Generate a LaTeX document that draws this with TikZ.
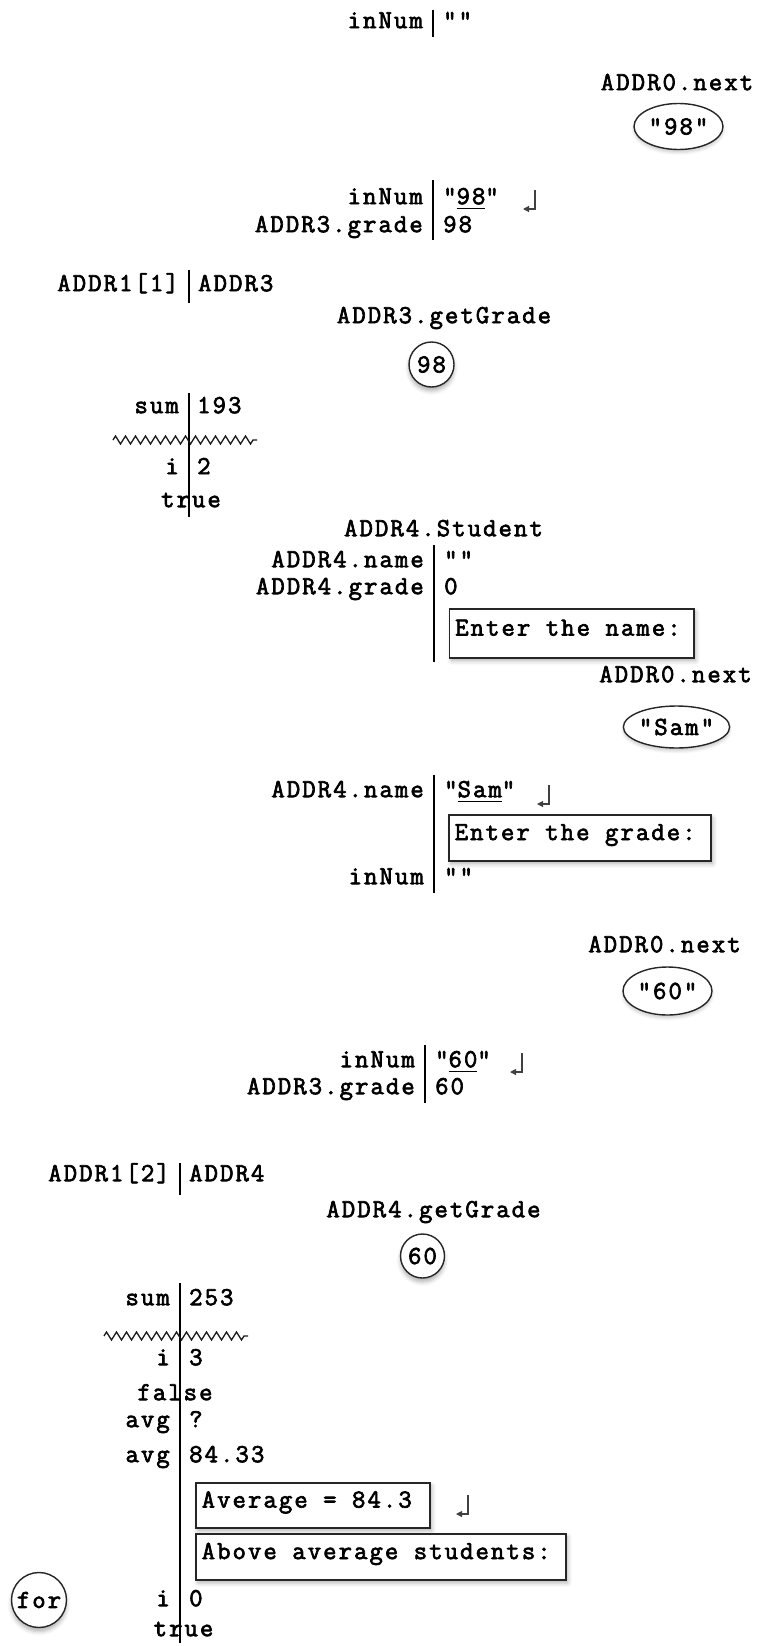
\documentclass[tikz,border=0pt]{standalone}
\usepackage{fontspec}
\setmonofont{Latin Modern Mono}[LetterSpace=7.9, FakeBold=2.6]
\usetikzlibrary{shapes.geometric,decorations.pathmorphing,shadows.blur,arrows.meta}
\newcommand\uln[1]{\setbox0\hbox{#1}\rlap{\rule[-5pt]{\wd0}{1.6pt}}\box0}
\tikzset{
  every node/.style={font=\ttfamily\fontsize{26}{30}\selectfont, inner sep=0pt, text=black},
  lbl/.style={anchor=mid east, yshift=-2pt},
  val/.style={anchor=mid west, yshift=-2pt},
  mtxt/.style={anchor=mid, yshift=-2pt},
  vbar/.style={line width=1.8pt, black},
  zz/.style={decorate, decoration={zigzag, segment length=10pt, amplitude=4pt}, line width=1.3pt, black!90},
  outbox/.style={draw=black!85, line width=1.8pt, fill=white, anchor=north west,
     blur shadow={shadow xshift=2pt, shadow yshift=-3pt, shadow blur radius=4pt, shadow opacity=30}},
  inell/.style={ellipse, draw=black!85, line width=1.4pt, fill=white,
     blur shadow={shadow xshift=0pt, shadow yshift=-3pt, shadow blur radius=3pt, shadow opacity=20}},
  retcirc/.style={circle, draw=black!85, line width=1.4pt, fill=white,
     blur shadow={shadow xshift=0pt, shadow yshift=-4pt, shadow blur radius=4pt, shadow opacity=30}},
  retarrow/.style={draw=black!75, line width=1.1pt, -{Triangle[length=6pt,width=6pt]}},
}
\newcommand\retmark[2]{%
  \coordinate (#1) at #2;
  \draw[retarrow] ([shift={(5,-10)}]#1) -- ([shift={(5,9)}]#1) -- ([shift={(-7,9)}]#1);}
\begin{document}
\begin{tikzpicture}[x=1pt,y=-1pt]
\useasboundingbox (0,0) rectangle (759,1646);

% A
\draw[vbar] (433,10) -- (433,37);
\node[lbl] (a1) at (423,24) {inNum};
\node[val] (a1v) at (443,24) {""};

% B
\node[mtxt] (b0) at (677,86) {ADDR0.next};
\node[inell, minimum width=89pt, minimum height=46pt] (b1) at (678.5,126.5) {"98"};

% C
\draw[vbar] (433,180) -- (433,240);
\node[lbl] (c1) at (423,200) {inNum};
\node[val] (c1v) at (443,200) {"\uln{98}"};
\retmark{c1r}{(530,200)}
\node[lbl] (c2) at (423,228) {ADDR3.grade};
\node[val] (c2v) at (443,228) {98};

% D
\draw[vbar] (189,270) -- (189,303);
\node[lbl] (d1) at (179,287) {ADDR1[1]};
\node[val] (d1v) at (198,287) {ADDR3};

% E
\node[mtxt] (e0) at (444,319) {ADDR3.getGrade};
\node[retcirc, minimum size=45pt] (e1) at (431.5,364.5) {98};

% F
\draw[vbar] (189,393) -- (189,517);
\node[lbl] (f1) at (179,409) {sum};
\node[val] (f1v) at (197,409) {193};
\draw[zz] (113,440) -- (257,440);
\node[lbl] (f2) at (179,470) {i};
\node[val] (f2v) at (197,470) {2};
\node[mtxt] (f3) at (191,503) {true};

% G
\node[mtxt] (g0) at (443.5,532) {ADDR4.Student};
\draw[vbar] (434,545) -- (434,662);
\node[lbl] (g1) at (424,563) {ADDR4.name};
\node[val] (g1v) at (444,563) {""};
\node[lbl] (g2) at (424,590) {ADDR4.grade};
\node[val] (g2v) at (444,590) {0};
\node[outbox, minimum width=244.5pt, minimum height=49pt] (g3) at (448.5,608) {};
\node[val, yshift=2pt] (g3t) at ([xshift=6.5pt]g3.west) {Enter the name:};

% H
\node[mtxt] (h0) at (675.5,678) {ADDR0.next};
\node[inell, minimum width=87pt, minimum height=42pt] (h1) at (676.5,727) {"Sam"};

% I
\draw[vbar] (434,775) -- (434,893);
\node[lbl] (i1) at (424,793) {ADDR4.name};
\node[val] (i1v) at (444,793) {"\uln{Sam}"};
\retmark{i1r}{(544,795)}
\node[outbox, minimum width=262pt, minimum height=46pt] (i2) at (448,814) {};
\node[val, yshift=2pt] (i2t) at ([xshift=6.5pt]i2.west) {Enter the grade:};
\node[lbl] (i3) at (424,880) {inNum};
\node[val] (i3v) at (444,880) {""};

% J
\node[mtxt] (j0) at (664.5,948) {ADDR0.next};
\node[inell, minimum width=89pt, minimum height=48pt] (j1) at (667.5,991) {"60"};

% K
\draw[vbar] (425,1045) -- (425,1103);
\node[lbl] (k1) at (415,1063) {inNum};
\node[val] (k1v) at (435,1063) {"\uln{60}"};
\retmark{k1r}{(517,1063)}
\node[lbl] (k2) at (415,1090) {ADDR3.grade};
\node[val] (k2v) at (435,1090) {60};

% L
\draw[vbar] (180,1163) -- (180,1195);
\node[lbl] (l1) at (170,1177) {ADDR1[2]};
\node[val] (l1v) at (189,1177) {ADDR4};

% M
\node[mtxt] (m0) at (433.5,1213) {ADDR4.getGrade};
\node[retcirc, minimum size=44pt] (m1) at (422.5,1256) {60};

% N
\draw[vbar] (180,1283) -- (180,1643);
\node[lbl] (n1) at (170,1301) {sum};
\node[val] (n1v) at (189,1301) {253};
\draw[zz] (104,1336) -- (248,1336);
\node[lbl] (n2) at (170,1361) {i};
\node[val] (n2v) at (189,1361) {3};
\node[mtxt] (n3) at (175,1396) {false};
\node[lbl] (n4) at (170,1423) {avg};
\node[val] (n4v) at (189,1423) {?};
\node[lbl] (n5) at (170,1458) {avg};
\node[val] (n5v) at (189,1458) {84.33};
\node[outbox, minimum width=234pt, minimum height=45pt] (n6) at (195,1482) {};
\node[val, yshift=2pt] (n6t) at ([xshift=6.5pt]n6.west) {Average = 84.3};
\retmark{n6r}{(463,1505)}
\node[outbox, minimum width=370pt, minimum height=46pt] (n7) at (195,1533) {};
\node[val, yshift=2pt] (n7t) at ([xshift=6.5pt]n7.west) {Above average students:};
\node[retcirc, minimum size=55pt] (n8) at (39,1600) {for};
\node[lbl] (n9) at (170,1602) {i};
\node[val] (n9v) at (189,1602) {0};
\node[mtxt] (n10) at (183.5,1632) {true};
\end{tikzpicture}
\end{document}
